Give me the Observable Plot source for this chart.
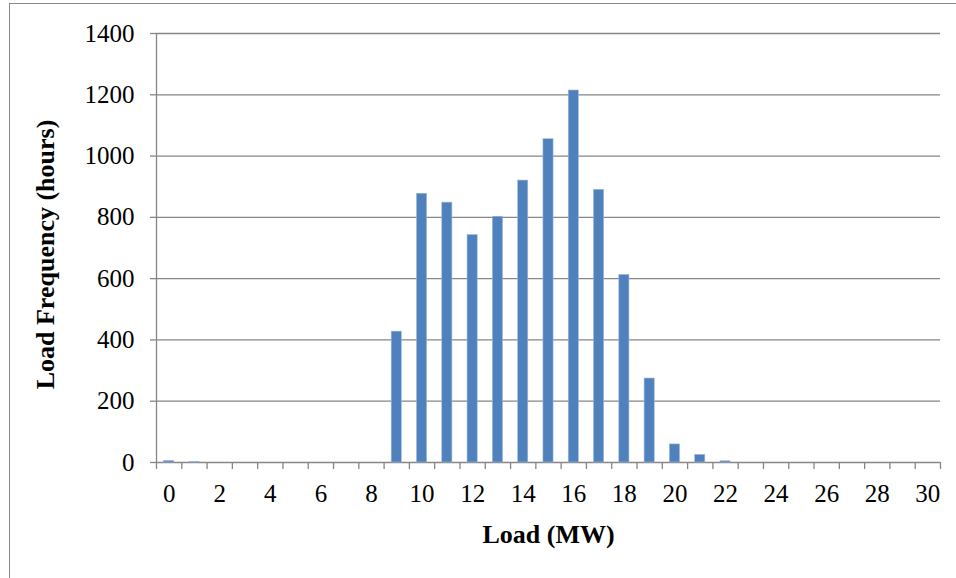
<!DOCTYPE html>
<html>
<head>
<meta charset="utf-8">
<script src="https://cdn.jsdelivr.net/npm/d3@7"></script>
<script src="https://cdn.jsdelivr.net/npm/@observablehq/plot@0.6"></script>
<style>
  html, body { margin: 0; padding: 0; background: #fff; overflow: hidden; }
  #wrap { position: relative; width: 956px; height: 578px; }
  #frame {
    position: absolute; left: 9px; top: 3px; width: 1200px; height: 800px;
    border-top: 1.5px solid #8a8a8a; border-left: 1.5px solid #8a8a8a;
    pointer-events: none;
  }
  #wrap svg { position: absolute; left: 0; top: 0; }
</style>
</head>
<body>
<div id="wrap"><div id="frame"></div></div>
<script>
// Load levels (MW) and the number of hours spent at each level
const loads = [0, 1, 2, 3, 4, 5, 6, 7, 8, 9, 10, 11, 12, 13, 14, 15, 16, 17, 18, 19, 20, 21, 22, 23, 24, 25, 26, 27, 28, 29, 30];
const hours = [5, 2, 0, 0, 0, 0, 0, 0, 0, 427, 877, 848, 742, 802, 920, 1055, 1214, 890, 612, 274, 59, 25, 4, 0, 0, 0, 0, 0, 0, 0, 0];

// Axis ticks
const yTicks = [0, 200, 400, 600, 800, 1000, 1200, 1400];
const xLabels = [0, 2, 4, 6, 8, 10, 12, 14, 16, 18, 20, 22, 24, 26, 28, 30];
const xBoundaries = d3.range(-0.5, 31, 1);

const yTitle = "Load Frequency (hours)";
const xTitle = "Load (MW)";

const data = loads.map((load, i) => ({load, hours: hours[i]}));
const halfBar = 0.2;
const gridColor = "#868686";

const chart = Plot.plot({
  width: 956,
  height: 578,
  marginLeft: 156,
  marginRight: 16,
  marginTop: 33,
  marginBottom: 116,
  style: {fontFamily: "'Liberation Serif', 'Times New Roman', serif", fontSize: "25px", color: "#000", background: "transparent"},
  x: {type: "linear", domain: [-0.5, 30.5]},
  y: {domain: [0, 1400]},
  marks: [
    Plot.ruleY(yTicks, {stroke: gridColor, strokeWidth: 1.3}),
    Plot.ruleX([-0.5], {y1: 0, y2: 1400, stroke: gridColor, strokeWidth: 1.3}),
    Plot.axisY({ticks: yTicks, tickSize: 6, tickPadding: 16, tickFormat: d => String(d), stroke: gridColor, strokeWidth: 1.3, fill: "#000", label: null}),
    Plot.axisX({ticks: xBoundaries, tickSize: 7, tickFormat: () => "", stroke: gridColor, strokeWidth: 1.3, label: null}),
    Plot.axisX({ticks: xLabels, tickSize: 0, tickPadding: 22, tickFormat: d => String(d), fill: "#000", label: null}),
    Plot.rectY(data, {
      x1: d => d.load - halfBar,
      x2: d => d.load + halfBar,
      y: "hours",
      fill: "#4F81BD",
      stroke: "#9db7dc",
      strokeWidth: 0.6
    }),
    Plot.text([yTitle], {frameAnchor: "left", dx: -111, dy: 6.5, rotate: -90, textAnchor: "middle", fontWeight: "bold", fontSize: 26, lineAnchor: "middle"}),
    Plot.text([xTitle], {frameAnchor: "bottom", dy: 72, fontWeight: "bold", fontSize: 26, lineAnchor: "middle"})
  ]
});

document.getElementById("wrap").prepend(chart);
</script>
</body>
</html>
